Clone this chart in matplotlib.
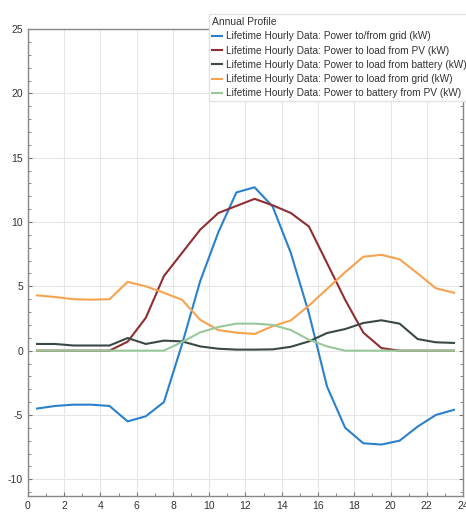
import numpy as np
import matplotlib
matplotlib.use('Agg')
import matplotlib.pyplot as plt
from matplotlib.ticker import MultipleLocator

plt.rcParams['font.family'] = ['Liberation Sans', 'DejaVu Sans']
plt.rcParams['axes.unicode_minus'] = False

# hour of day (midpoint of each hour)
hours = np.arange(24) + 0.5

grid_power = [-4.5, -4.3, -4.2, -4.2, -4.3, -5.5, -5.1, -4.0, 0.5, 5.4, 9.2, 12.3,
              12.7, 11.2, 7.6, 2.9, -2.8, -6.0, -7.2, -7.3, -7.0, -5.9, -5.0, -4.6]
pv_to_load = [0, 0, 0, 0, 0, 0.7, 2.55, 5.8, 7.6, 9.4, 10.7, 11.25,
              11.8, 11.3, 10.7, 9.65, 6.8, 3.95, 1.4, 0.2, 0, 0, 0, 0]
batt_to_load = [0.52, 0.52, 0.4, 0.4, 0.4, 0.98, 0.52, 0.78, 0.72, 0.33, 0.15, 0.08,
                0.08, 0.1, 0.3, 0.72, 1.37, 1.68, 2.15, 2.36, 2.1, 0.9, 0.65, 0.6]
grid_to_load = [4.3, 4.17, 4.0, 3.96, 4.0, 5.35, 5.0, 4.5, 3.95, 2.4, 1.6, 1.4,
                1.3, 1.9, 2.35, 3.5, 4.8, 6.1, 7.3, 7.45, 7.1, 6.0, 4.85, 4.5]
pv_to_batt = [0, 0, 0, 0, 0, 0, 0, 0, 0.67, 1.42, 1.84, 2.1,
              2.1, 2.0, 1.6, 0.85, 0.33, 0, 0, 0, 0, 0, 0, 0]

labels = ['Lifetime Hourly Data: Power to/from grid (kW)',
          'Lifetime Hourly Data: Power to load from PV (kW)',
          'Lifetime Hourly Data: Power to load from battery (kW)',
          'Lifetime Hourly Data: Power to load from grid (kW)',
          'Lifetime Hourly Data: Power to battery from PV (kW)']
colors = ['#2b80cc', '#8e2f33', '#3b4944', '#f7a24f', '#98c89a']
series = [grid_power, pv_to_load, batt_to_load, grid_to_load, pv_to_batt]

fig = plt.figure(figsize=(4.66, 5.19), dpi=100, facecolor='white')
ax = fig.add_axes([0.060, 0.0443, 0.9336, 0.8997])

for s, c, lab in zip(series, colors, labels):
    ax.plot(hours, s, color=c, lw=1.5, label=lab)

ax.set_xlim(0, 24)
ax.set_ylim(-11.3, 25)
ax.xaxis.set_major_locator(MultipleLocator(2))
ax.xaxis.set_minor_locator(MultipleLocator(1))
ax.yaxis.set_major_locator(MultipleLocator(5))
ax.yaxis.set_minor_locator(MultipleLocator(1))
ax.grid(True, which='major', color='#e6e6e6', lw=0.8)
ax.set_axisbelow(True)
ax.tick_params(which='both', direction='in', top=False, right=True,
               labelsize=7.5, colors='#777777', labelcolor='#333333')
ax.tick_params(which='major', length=3)
ax.tick_params(which='minor', length=2)
for sp in ax.spines.values():
    sp.set_color('#888888')
    sp.set_linewidth(1.0)

leg = ax.legend(loc='upper left', bbox_to_anchor=(0.405, 1.043), fontsize=7.3,
                title='Annual Profile', title_fontsize=7.5, handlelength=1.0,
                handletextpad=0.4, labelspacing=0.42, borderpad=0.3,
                frameon=True, fancybox=False, edgecolor='#e4e4e4',
                facecolor='white', framealpha=1.0, alignment='left')
for t in leg.get_texts():
    t.set_color('#333333')
leg.get_title().set_color('#333333')

fig.savefig('out.png', dpi=100, facecolor='white')
